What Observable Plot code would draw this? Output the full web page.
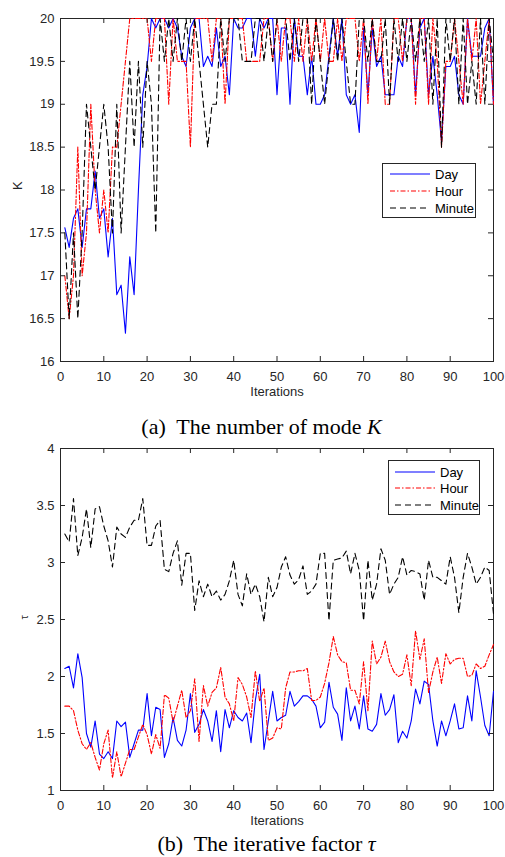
<!DOCTYPE html>
<html><head><meta charset="utf-8">
<script src="https://cdn.jsdelivr.net/npm/d3@7"></script>
<script src="https://cdn.jsdelivr.net/npm/@observablehq/plot@0.6"></script>
<style>
body{margin:0;background:#fff;}
#wrap{position:relative;width:505px;height:857px;overflow:hidden;font-family:"Liberation Sans",Arial,sans-serif;}
.panel{position:absolute;left:0;}
.cap{position:absolute;width:505px;text-align:center;font-family:"Liberation Serif","Times New Roman",serif;font-size:22px;line-height:20px;color:#000;white-space:pre;}
.legend{position:absolute;}
</style></head><body><div id="wrap"></div>
<script>
// ---------- data ----------
const iterations = d3.range(1, 101);
const seriesNames = ["Day", "Hour", "Minute"];
const seriesColors = ["#0000ff", "#ff0000", "#000000"];
const seriesDash = [null, "5,2,1.5,2", "6,4"];

// Panel (a): number of modes K
const kDay = [17.56,17.33,17.67,17.78,17.33,17.78,17.78,18.22,17.67,17.78,
  17.22,17.67,16.78,16.89,16.33,17.22,16.78,18.0,19.11,19.44,
  20,19.89,20,20,19.89,20,19.89,19.56,19.44,19.89,
  20,20,19.44,19.56,19.44,19.89,19.44,19.56,19.11,20,
  19.89,19.89,20,20,19.56,20,19.89,20,20,19.11,
  19.89,19.89,19.0,20,19.56,19.56,19.11,19.56,19.0,19.0,
  19.11,19.56,20,19.56,20,19.11,19.0,19.11,18.67,19.89,
  19.11,19.89,19.44,19.56,19.11,19.11,19.11,19.56,19.44,20,
  20,19.11,19.89,20,19.11,19.56,19.11,18.56,19.44,19.44,
  19.56,19.11,19.0,20,19.56,19.56,19.56,19.89,20,19.0];
const kHour = [17.0,16.5,17.0,18.5,17.0,17.5,19.0,18.0,17.5,18.0,
  17.5,18.5,18.5,19.0,19.5,20,20,20,20,20,
  19.5,20,20,20,19.0,20,19.5,19.5,19.5,18.5,
  20,20,20,20,19.5,20,20,19.0,20,20,
  20,20,19.5,19.5,19.5,19.5,20,20,19.5,20,
  19.5,20,20,19.5,20,19.5,20,19.5,20,19.5,
  20,19.5,19.5,20,19.5,20,20,20,19.5,20,
  19.0,20,19.5,20,19.0,19.0,20,20,19.5,20,
  20,19.0,20,20,19.0,20,19.5,18.5,19.5,19.5,
  20,19.5,19.0,20,19.5,20,19.0,19.5,20,19.0];
const kMinute = [17.5,16.5,17.5,16.5,17.5,19.0,18.5,18.0,18.5,19.0,
  18.5,17.5,19.0,17.5,18.5,19.5,18.5,19.5,18.5,19.5,
  19.0,17.5,20,19.5,20,19.5,20,19.5,20,19.5,
  20,19.5,19.0,18.5,19.0,19.0,20,19.5,20,20,
  20,19.5,19.5,19.5,20,20,19.5,20,19.5,20,
  20,20,19.5,20,19.5,20,20,19.0,20,19.5,
  19.0,19.5,20,19.5,20,19.5,19.0,19.0,20,20,
  19.5,20,19.5,19.5,20,19.0,20,19.5,20,19.5,
  20,19.5,20,19.5,20,19.0,20,18.5,20,19.5,
  20,19.0,20,19.0,19.5,19.0,20,19.0,20,19.5];

// Panel (b): iterative factor tau
const tauDay = [2.07,2.09,1.90,2.20,1.99,1.50,1.38,1.61,1.32,1.28,
  1.34,1.28,1.61,1.56,1.60,1.29,1.41,1.53,1.53,1.85,
  1.48,1.73,1.71,1.29,1.41,1.64,1.44,1.39,1.53,1.85,
  1.51,1.58,1.71,1.61,1.43,1.70,1.34,1.71,1.55,1.70,
  1.64,1.61,1.68,1.42,1.79,2.02,1.36,1.61,1.87,1.61,
  1.64,1.66,1.87,1.74,1.78,1.83,1.83,1.80,1.74,1.55,
  1.60,1.95,1.73,1.67,1.44,1.90,1.61,1.74,1.54,1.83,
  1.54,1.52,1.58,1.85,1.66,1.71,1.84,1.42,1.52,1.46,
  1.61,1.89,1.76,1.96,1.93,1.61,1.39,1.61,1.48,1.61,
  1.76,1.54,1.55,1.83,1.61,2.05,1.82,1.57,1.48,1.87];
const tauHour = [1.74,1.74,1.70,1.53,1.41,1.36,1.42,1.29,1.18,1.41,
  1.53,1.11,1.34,1.12,1.24,1.36,1.36,1.47,1.58,1.49,
  1.32,1.49,1.37,1.84,1.81,1.60,1.74,1.88,1.64,1.70,
  1.98,1.43,1.92,1.74,1.86,1.90,2.08,1.82,1.76,1.61,
  1.99,1.93,1.82,1.64,2.05,1.78,1.90,1.44,1.46,1.55,
  1.54,1.90,2.04,2.04,2.05,2.05,2.07,1.79,1.79,1.82,
  1.94,2.12,2.35,2.19,2.13,2.12,1.88,1.88,1.76,2.13,
  1.70,2.31,2.11,2.17,2.31,2.13,2.04,2.00,2.02,2.19,
  1.92,2.40,2.15,2.33,1.86,2.04,2.17,1.94,2.20,2.11,
  2.15,2.16,2.16,2.00,2.01,2.11,2.07,2.09,2.19,2.28];
const tauMinute = [3.25,3.18,3.56,3.06,3.22,3.47,3.13,3.47,3.49,3.32,
  3.19,2.96,3.31,3.25,3.22,3.31,3.37,3.37,3.56,3.15,
  3.15,3.32,3.37,2.94,2.92,3.08,3.19,2.80,3.08,3.08,
  2.58,2.84,2.70,2.81,2.70,2.75,2.67,2.72,2.84,3.02,
  2.72,2.62,2.90,2.72,2.81,2.70,2.48,2.87,2.70,2.78,
  2.96,3.05,2.89,2.81,2.85,2.97,2.72,2.75,2.81,3.08,
  3.08,2.49,3.02,3.03,3.04,3.10,2.90,3.08,2.93,2.49,
  3.02,2.67,2.81,3.12,3.02,2.72,2.81,2.87,3.05,2.89,
  2.93,2.92,2.90,2.67,3.02,2.87,2.87,2.84,2.81,3.05,
  2.87,2.56,2.87,3.08,2.96,2.81,2.87,2.96,2.93,2.55];

const xTicks = [0,10,20,30,40,50,60,70,80,90,100];
const yTicksA = [16,16.5,17,17.5,18,18.5,19,19.5,20];
const yLabelsA = ["16","16.5","17","17.5","18","18.5","19","19.5","20"];
const yTicksB = [1,1.5,2,2.5,3,3.5,4];
const yLabelsB = ["1","1.5","2","2.5","3","3.5","4"];

// ---------- drawing ----------
const AX = "#262626";
const FONT = "Liberation Sans, Arial, sans-serif";

function panel({series, yDomain, yTicks, yLabels, yLabel, yLabelSize, yLabelDx, height, marginTop, marginBottom}) {
  const W = 505, mL = 60, mR = 12;
  const plotW = W - mL - mR, plotH = height - marginTop - marginBottom;
  const tick = 5;
  const rows = [];
  series.forEach((vals, s) => vals.forEach((v, i) => rows.push({x: iterations[i], y: v, s})));
  const marks = [Plot.frame({stroke: AX, strokeWidth: 1})];
  series.forEach((vals, s) => {
    marks.push(Plot.line(rows.filter(r => r.s === s), {
      x: "x", y: "y", stroke: seriesColors[s], strokeWidth: 1.1,
      strokeDasharray: seriesDash[s] || undefined
    }));
  });
  marks.push(
    Plot.tickX(xTicks, {x: d => d, stroke: AX, insetTop: plotH - tick}),
    Plot.tickX(xTicks, {x: d => d, stroke: AX, insetBottom: plotH - tick}),
    Plot.tickY(yTicks, {y: d => d, stroke: AX, insetRight: plotW - tick}),
    Plot.tickY(yTicks, {y: d => d, stroke: AX, insetLeft: plotW - tick}),
    Plot.axisX(xTicks, {tickSize: 0, tickPadding: 10, fontSize: 13, fill: AX, label: null}),
    Plot.axisY(yTicks, {tickSize: 0, tickPadding: 6, fontSize: 13, fill: AX, label: null,
      tickFormat: (d, i) => yLabels[yTicks.indexOf(d)]}),
    Plot.text(["Iterations"], {frameAnchor: "bottom", dy: 34, fontSize: 13, fill: AX}),
    Plot.text([yLabel], {frameAnchor: "left", dx: yLabelDx, rotate: -90, fontSize: yLabelSize, fill: AX})
  );
  return Plot.plot({
    width: W, height, marginTop, marginBottom, marginLeft: mL, marginRight: mR,
    style: {fontFamily: FONT, background: "transparent", overflow: "visible"},
    x: {domain: [0, 100]},
    y: {domain: yDomain},
    marks
  });
}

function legend(parent, left, top, w, h, sampleX0, sampleX1, textX, rowYs) {
  const svg = d3.select(parent).append("svg")
    .attr("class", "legend")
    .style("left", left + "px").style("top", top + "px")
    .attr("width", w + 1).attr("height", h + 1)
    .style("position", "absolute");
  svg.append("rect").attr("x", 0.5).attr("y", 0.5).attr("width", w - 1).attr("height", h - 1)
    .attr("fill", "#fff").attr("stroke", AX).attr("stroke-width", 1);
  seriesNames.forEach((name, s) => {
    svg.append("line").attr("x1", sampleX0).attr("x2", sampleX1)
      .attr("y1", rowYs[s]).attr("y2", rowYs[s])
      .attr("stroke", seriesColors[s]).attr("stroke-width", 1.1)
      .attr("stroke-dasharray", seriesDash[s]);
    svg.append("text").attr("x", textX).attr("y", rowYs[s]).attr("dy", "0.35em")
      .attr("font-family", FONT).attr("font-size", 13).attr("fill", "#000").text(name);
  });
}

const wrap = document.getElementById("wrap");

const a = panel({series: [kDay, kHour, kMinute], yDomain: [16, 20], yTicks: yTicksA, yLabels: yLabelsA,
  yLabel: "K", yLabelSize: 13, yLabelDx: -43, height: 410, marginTop: 18, marginBottom: 49});
a.classList.add("panel"); a.style.top = "0px";
wrap.appendChild(a);

const b = panel({series: [tauDay, tauHour, tauMinute], yDomain: [1, 4], yTicks: yTicksB, yLabels: yLabelsB,
  yLabel: "τ", yLabelSize: 11, yLabelDx: -36, height: 420, marginTop: 28, marginBottom: 50});
b.classList.add("panel"); b.style.top = "420px";
wrap.appendChild(b);

legend(wrap, 382, 163, 94, 55, 8, 48, 53, [11, 28, 45]);
legend(wrap, 388, 460, 92, 55, 7, 47, 52, [12, 28, 45]);

const capA = document.createElement("div");
capA.className = "cap"; capA.style.top = "417px"; capA.style.left = "9px";
capA.innerHTML = "(a)  The number of mode <i>K</i>";
wrap.appendChild(capA);

const capB = document.createElement("div");
capB.className = "cap"; capB.style.top = "834px"; capB.style.left = "14px";
capB.innerHTML = "(b)  The iterative factor <i>τ</i>";
wrap.appendChild(capB);
</script>
</body></html>
